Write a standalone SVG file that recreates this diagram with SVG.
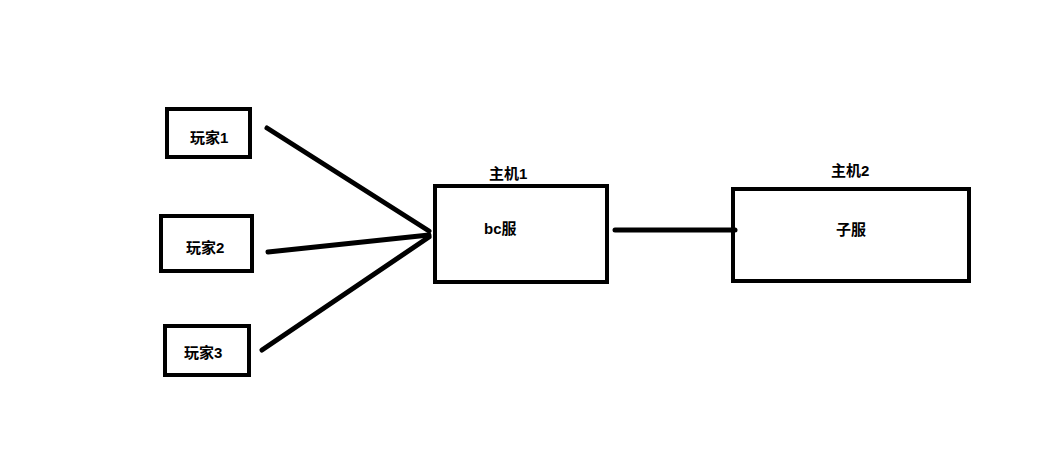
<svg xmlns="http://www.w3.org/2000/svg" width="1049" height="475" viewBox="0 0 1049 475">
<style>
.box{fill:none;stroke:#000;stroke-width:4}
.lnk{stroke:#000;stroke-width:5;stroke-linecap:round;fill:none}
.t{font-family:"Liberation Sans","Noto Sans CJK SC",sans-serif;font-size:15px;font-weight:bold;fill:#000}
</style>
<rect x="0" y="0" width="1049" height="475" fill="#fff"/>
<g id="connectors">
<line class="lnk" x1="267" y1="128" x2="429" y2="231"/>
<line class="lnk" x1="268" y1="252" x2="429" y2="235"/>
<line class="lnk" x1="262" y1="350" x2="429" y2="237"/>
<line class="lnk" x1="615" y1="230" x2="735" y2="230"/>
</g>
<g id="player1">
<rect class="box" x="167" y="109" width="83" height="48"/>
<text class="t" x="190" y="143">玩家1</text>
</g>
<g id="player2">
<rect class="box" x="161" y="216" width="91" height="55"/>
<text class="t" x="186" y="253">玩家2</text>
</g>
<g id="player3">
<rect class="box" x="165" y="326" width="84" height="49"/>
<text class="t" x="184" y="358">玩家3</text>
</g>
<g id="host1">
<rect class="box" x="435" y="186" width="172" height="96"/>
<text class="t" x="489" y="179">主机1</text>
<text class="t" x="484" y="234">bc服</text>
</g>
<g id="host2">
<rect class="box" x="733" y="189" width="236" height="92"/>
<text class="t" x="831" y="176">主机2</text>
<text class="t" x="836" y="235">子服</text>
</g>
</svg>
